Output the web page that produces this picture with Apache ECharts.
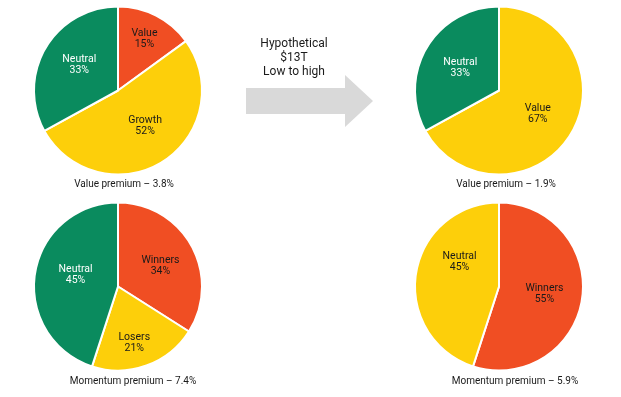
<!DOCTYPE html>
<html><head><meta charset="utf-8">
<script src="https://cdn.jsdelivr.net/npm/echarts@6/dist/echarts.min.js"></script>
<style>html,body{margin:0;padding:0;background:#fff}#c{width:621px;height:397px}</style>
</head><body><div id="c"></div>
<script>
// Data
const valueLowCats = ['Value', 'Growth', 'Neutral'];
const valueLowVals = [15, 52, 33];
const valueHighCats = ['Value', 'Neutral'];
const valueHighVals = [67, 33];
const momLowCats = ['Winners', 'Losers', 'Neutral'];
const momLowVals = [34, 21, 45];
const momHighCats = ['Winners', 'Neutral'];
const momHighVals = [55, 45];
const captions = ['Value premium – 3.8%', 'Value premium – 1.9%', 'Momentum premium – 7.4%', 'Momentum premium – 5.9%'];
const arrowText = ['Hypothetical', '$13T', 'Low to high'];

const GREEN = '#0A8B5E', ORANGE = '#F04E23', YELLOW = '#FDCF0A';
const FONT = 'Roboto, "Liberation Sans", sans-serif';

function mkData(cats, vals, colors) {
  return cats.map((c, i) => ({
    name: c, value: vals[i],
    itemStyle: { color: colors[i] },
    label: { color: colors[i] === GREEN ? '#ffffff' : '#1a1a1a' }
  }));
}
function pie(center, data, nudges) {
  return {
    type: 'pie', radius: 84, center: center, startAngle: 90, clockwise: true,
    animation: false, silent: true,
    itemStyle: { borderColor: '#ffffff', borderWidth: 2 },
    label: { show: true, position: 'inside', formatter: '{b}\n{c}%', fontSize: 10.5, lineHeight: 11, fontFamily: FONT },
    labelLine: { show: false },
    labelLayout: function (p) { const n = nudges[p.dataIndex] || [0, 0]; return { dx: n[0], dy: n[1] }; },
    data: data
  };
}

const chart = echarts.init(document.getElementById('c'), null, { renderer: 'canvas' });
const capStyle = { fontSize: 10, fontWeight: 'normal', color: '#1a1a1a', fontFamily: FONT };
chart.setOption({
  backgroundColor: '#ffffff',
  title: [
    { text: captions[0], left: 119, top: 174, textAlign: 'center', textStyle: capStyle },
    { text: captions[1], left: 501, top: 174, textAlign: 'center', textStyle: capStyle },
    { text: captions[2], left: 128, top: 371, textAlign: 'center', textStyle: capStyle },
    { text: captions[3], left: 510, top: 371, textAlign: 'center', textStyle: capStyle }
  ],
  graphic: [
    { type: 'polygon', silent: true,
      shape: { points: [[246, 88], [345, 88], [345, 75], [373, 101], [345, 127], [345, 114], [246, 114]] },
      style: { fill: '#D9D9D9' } },
    { type: 'text', x: 294, y: 37, silent: true,
      style: { text: arrowText.join('\n'), align: 'center', verticalAlign: 'top', fontSize: 12, lineHeight: 14, fill: '#1a1a1a', fontFamily: FONT } }
  ],
  series: [
    pie([118, 90.5], mkData(valueLowCats, valueLowVals, [ORANGE, YELLOW, GREEN]), [[6, -12], [3, -3], [0, -3]]),
    pie([499, 90.5], mkData(valueHighCats, valueHighVals, [YELLOW, GREEN]), [[0, 0], [0, 0]]),
    pie([118, 286.5], mkData(momLowCats, momLowVals, [ORANGE, YELLOW, GREEN]), [[3, 1], [1, 14], [2, -5]]),
    pie([499, 286.5], mkData(momHighCats, momHighVals, [ORANGE, YELLOW]), [[1, 0], [5, -18]])
  ]
});
</script></body></html>
